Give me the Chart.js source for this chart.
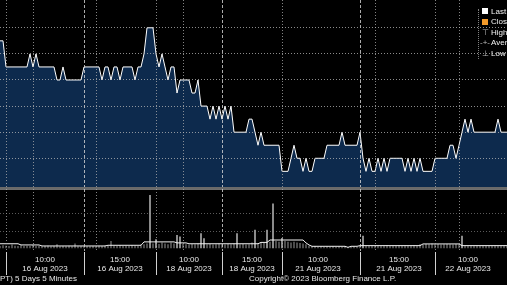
<!DOCTYPE html>
<html>
<head>
<meta charset="utf-8">
<script src="https://cdn.jsdelivr.net/npm/chart.js@4.4.0/dist/chart.umd.min.js"></script>
<style>
html, body { margin: 0; padding: 0; background: #000; width: 507px; height: 285px; overflow: hidden; }
body { position: relative; font-family: "Liberation Sans", Arial, sans-serif; color: #e6e6e6; }
#priceChart { position: absolute; left: 0; top: 0; }
#sep { position: absolute; left: 0; top: 187px; width: 507px; height: 2px; background: #6a6a6a; }
#volChart { position: absolute; left: 0; top: 189px; }
.foot { position: absolute; top: 275px; font-size: 8px; line-height: 8px; white-space: nowrap; color: #e6e6e6; }
#legend { position: absolute; left: 0; top: 0; width: 507px; height: 70px; pointer-events: none; }
#legend .bar { position: absolute; left: 478px; top: 9px; height: 50px; border-left: 1px dotted #808080; }
#legend .sym { position: absolute; left: 482px; width: 6px; height: 6px; }
#legend .mk { position: absolute; left: 480px; width: 10px; font-size: 8px; line-height: 8px; color: #bdbdbd; text-align: center; }
#legend .txt { position: absolute; left: 491px; font-size: 8px; line-height: 8px; color: #f0f0f0; white-space: nowrap; }
</style>
</head>
<body>
<canvas id="priceChart" width="507" height="187"></canvas>
<div id="sep"></div>
<canvas id="volChart" width="507" height="86"></canvas>

<div id="legend">
  <div class="bar"></div>
  <div class="sym" style="top:8px;background:#ffffff"></div><div class="txt" style="top:8px">Last Price</div>
  <div class="sym" style="top:19px;background:#f39a2a"></div><div class="txt" style="top:18px">Close</div>
  <div class="mk" style="top:29px">&#8868;</div><div class="txt" style="top:29px">High</div>
  <div class="mk" style="top:39px">-+-</div><div class="txt" style="top:39px">Average</div>
  <div class="mk" style="top:50px">&#8869;</div><div class="txt" style="top:50px">Low</div>
</div>

<div class="foot" style="left:0">PT) 5 Days 5 Minutes</div>
<div class="foot" style="left:249px">Copyright© 2023 Bloomberg Finance L.P.</div>

<script>
// 5-minute bars, last price
const price = [
  1.21, 1.21, 1.19, 1.19, 1.19, 1.19, 1.19, 1.19, 1.19, 1.19,
  1.20, 1.19, 1.20, 1.19, 1.19, 1.19, 1.19, 1.19, 1.19, 1.18,
  1.18, 1.19, 1.18, 1.18, 1.18, 1.18, 1.18, 1.18, 1.19, 1.19,
  1.19, 1.19, 1.19, 1.19, 1.18, 1.19, 1.19, 1.18, 1.19, 1.19,
  1.18, 1.19, 1.19, 1.19, 1.19, 1.18, 1.19, 1.19, 1.20, 1.22,
  1.22, 1.22, 1.20, 1.19, 1.20, 1.19, 1.18, 1.19, 1.19, 1.17,
  1.18, 1.18, 1.18, 1.18, 1.17, 1.17, 1.18, 1.16, 1.16, 1.16,
  1.15, 1.16, 1.15, 1.16, 1.15, 1.16, 1.15, 1.16, 1.14, 1.14,
  1.14, 1.14, 1.14, 1.15, 1.15, 1.14, 1.13, 1.14, 1.13, 1.13,
  1.13, 1.13, 1.13, 1.13, 1.11, 1.11, 1.11, 1.12, 1.13, 1.12,
  1.12, 1.11, 1.12, 1.11, 1.11, 1.12, 1.12, 1.12, 1.12, 1.13,
  1.13, 1.13, 1.13, 1.13, 1.14, 1.13, 1.13, 1.13, 1.13, 1.13,
  1.14, 1.12, 1.11, 1.12, 1.11, 1.11, 1.12, 1.11, 1.12, 1.11,
  1.12, 1.12, 1.12, 1.12, 1.12, 1.11, 1.12, 1.11, 1.12, 1.11,
  1.12, 1.11, 1.11, 1.11, 1.11, 1.12, 1.12, 1.12, 1.12, 1.12,
  1.13, 1.13, 1.12, 1.13, 1.14, 1.15, 1.14, 1.15, 1.14, 1.14,
  1.14, 1.14, 1.14, 1.14, 1.14, 1.14, 1.15, 1.14, 1.14, 1.14
];

// volume per bar (millions)
const volume = [
  0.10, 0.15, 0.12, 0.10, 0.18, 0.12, 0.10, 0.14, 0.10, 0.12,
  0.10, 0.16, 0.10, 0.12, 0.08, 0.10, 0.12, 0.08, 0.10, 0.20,
  0.08, 0.10, 0.08, 0.12, 0.08, 0.25, 0.08, 0.10, 0.08, 0.10,
  0.08, 0.10, 0.08, 0.12, 0.10, 0.12, 0.10, 0.40, 0.12, 0.10,
  0.14, 0.10, 0.12, 0.10, 0.14, 0.12, 0.10, 0.18, 0.20, 0.25,
  3.10, 0.25, 0.50, 0.22, 0.30, 0.25, 0.20, 0.30, 0.25, 0.75,
  0.65, 0.22, 0.20, 0.18, 0.22, 0.20, 0.25, 0.85, 0.55, 0.20,
  0.22, 0.18, 0.20, 0.25, 0.20, 0.18, 0.22, 0.20, 0.25, 0.85,
  0.20, 0.22, 0.18, 0.20, 0.30, 1.05, 0.25, 0.30, 0.28, 1.05,
  0.35, 2.60, 0.40, 0.35, 0.57, 0.40, 0.35, 0.30, 0.35, 0.30,
  0.28, 0.25, 0.20, 0.12, 0.08, 0.10, 0.06, 0.08, 0.06, 0.08,
  0.06, 0.08, 0.06, 0.08, 0.06, 0.08, 0.04, 0.06, 0.08, 0.06,
  0.10, 0.70, 0.12, 0.10, 0.12, 0.10, 0.12, 0.10, 0.12, 0.14,
  0.10, 0.12, 0.10, 0.14, 0.10, 0.12, 0.10, 0.12, 0.14, 0.10,
  0.20, 0.18, 0.22, 0.20, 0.25, 0.20, 0.22, 0.18, 0.20, 0.22,
  0.20, 0.18, 0.22, 0.20, 0.70, 0.12, 0.10, 0.12, 0.10, 0.12,
  0.10, 0.12, 0.10, 0.12, 0.10, 0.12, 0.10, 0.12, 0.10, 0.12
];

// smoothed volume line
const volumeAvg = [
  0.25, 0.25, 0.25, 0.25, 0.25, 0.25, 0.25, 0.18, 0.18, 0.18,
  0.18, 0.18, 0.18, 0.18, 0.12, 0.12, 0.12, 0.12, 0.12, 0.12,
  0.12, 0.12, 0.12, 0.12, 0.12, 0.12, 0.12, 0.12, 0.12, 0.12,
  0.12, 0.12, 0.12, 0.12, 0.12, 0.12, 0.16, 0.16, 0.16, 0.16,
  0.16, 0.16, 0.16, 0.16, 0.16, 0.16, 0.16, 0.16, 0.36, 0.36,
  0.36, 0.36, 0.36, 0.36, 0.36, 0.36, 0.36, 0.36, 0.36, 0.30,
  0.30, 0.30, 0.30, 0.25, 0.25, 0.25, 0.25, 0.25, 0.25, 0.25,
  0.25, 0.25, 0.25, 0.25, 0.25, 0.25, 0.25, 0.25, 0.25, 0.25,
  0.25, 0.25, 0.25, 0.25, 0.25, 0.25, 0.25, 0.33, 0.33, 0.33,
  0.47, 0.47, 0.47, 0.47, 0.47, 0.47, 0.47, 0.47, 0.47, 0.47,
  0.47, 0.47, 0.30, 0.18, 0.10, 0.10, 0.10, 0.10, 0.10, 0.10,
  0.10, 0.10, 0.10, 0.10, 0.10, 0.10, 0.04, 0.10, 0.10, 0.10,
  0.14, 0.14, 0.14, 0.14, 0.14, 0.14, 0.14, 0.14, 0.14, 0.14,
  0.14, 0.14, 0.14, 0.14, 0.14, 0.14, 0.14, 0.14, 0.14, 0.14,
  0.14, 0.24, 0.24, 0.24, 0.24, 0.24, 0.24, 0.24, 0.24, 0.24,
  0.24, 0.24, 0.24, 0.24, 0.14, 0.14, 0.14, 0.14, 0.14, 0.14,
  0.14, 0.14, 0.14, 0.14, 0.14, 0.14, 0.14, 0.14, 0.14, 0.14
];

// x axis: bar index of each label, and its two text lines
const tickIdx = [15, 40, 63, 84, 106, 133, 156];
const tickTimes = ['10:00', '15:00', '10:00', '15:00', '10:00', '15:00', '10:00'];
const tickDates = ['16 Aug 2023', '16 Aug 2023', '18 Aug 2023', '18 Aug 2023', '21 Aug 2023', '21 Aug 2023', '22 Aug 2023'];

// bar indices of session separators and vertical grid lines
const sepIdx = [2, 28, 52, 74, 94, 120, 145];
const dashedIdx = [28, 74, 120];
const dottedIdx = [2, 11, 32, 52, 61, 94, 125, 145, 153];

const labels = price.map((p, i) => {
    const k = tickIdx.indexOf(i);
    return k < 0 ? ['', ''] : [tickTimes[k], tickDates[k]];
});

function vGridColor(c) {
    if (dashedIdx.includes(c.index)) return 'rgba(215,215,215,0.8)';
    if (dottedIdx.includes(c.index)) return 'rgba(175,175,175,0.75)';
    return 'transparent';
}
function vGridDash(c) {
    return dashedIdx.includes(c.index) ? [3, 2] : [1, 2];
}
function onStep(step) {
    return scale => {
        scale.ticks = scale.ticks.filter(t => {
            const r = t.value / step;
            return Math.abs(r - Math.round(r)) < 1e-6 && t.value > scale.min && t.value < scale.max;
        });
    };
}

Chart.defaults.animation = false;
Chart.defaults.font.family = '"Liberation Sans", Arial, sans-serif';

new Chart(document.getElementById('priceChart'), {
    type: 'line',
    data: {
        labels: labels,
        datasets: [{
            data: price,
            borderColor: '#ffffff',
            borderWidth: 1,
            backgroundColor: 'rgb(13, 42, 77)',
            fill: 'start',
            pointRadius: 0,
            tension: 0
        }]
    },
    options: {
        responsive: false,
        layout: { padding: 0 },
        plugins: { legend: { display: false }, tooltip: { enabled: false } },
        scales: {
            x: {
                offset: false,
                ticks: { display: false, autoSkip: false },
                grid: { color: vGridColor, drawTicks: false, z: 1, lineWidth: 1 },
                border: { display: false, dash: vGridDash }
            },
            y: {
                position: 'right',
                min: 1.098,
                max: 1.2413,
                afterBuildTicks: onStep(0.02),
                ticks: { display: false, stepSize: 0.02 },
                grid: { color: 'rgba(185,185,185,0.75)', drawTicks: false, z: 1 },
                border: { display: false, dash: [1, 2] }
            }
        }
    }
});

new Chart(document.getElementById('volChart'), {
    type: 'bar',
    data: {
        labels: labels,
        datasets: [{
            type: 'line',
            data: volumeAvg,
            borderColor: '#f2f2f2',
            borderWidth: 1,
            pointRadius: 0,
            tension: 0
        }, {
            type: 'bar',
            data: volume,
            // tall bars show light, the small ones stay dim under the line
            backgroundColor: c => c.raw > 0.45 ? '#a8a8a8' : '#5c5c5c',
            barThickness: 1
        }]
    },
    options: {
        responsive: false,
        layout: { padding: { left: 0, right: 0, top: 0, bottom: 1.3 } },
        plugins: { legend: { display: false }, tooltip: { enabled: false } },
        scales: {
            x: {
                offset: false,
                // labels sit beside the separator ticks, so fix the axis height
                afterFit: scale => { scale.height = 22.7; },
                ticks: {
                    autoSkip: false, maxRotation: 0, minRotation: 0,
                    padding: -20.5, color: '#e8e8e8',
                    font: { size: 8 }
                },
                grid: {
                    offset: false, color: vGridColor, z: 1,
                    drawTicks: true, tickLength: 24, tickWidth: 1,
                    tickColor: c => sepIdx.includes(c.index) ? '#d0d0d0' : 'transparent',
                    tickBorderDash: []
                },
                border: { display: true, color: '#dcdcdc', width: 1, dash: vGridDash }
            },
            y: {
                position: 'right',
                min: -0.176,
                max: 3.47,
                afterBuildTicks: onStep(1),
                ticks: { display: false, stepSize: 1 },
                grid: { color: 'rgba(150,150,150,0.6)', drawTicks: false, z: 1 },
                border: { display: false, dash: [1, 2] }
            }
        }
    }
});
</script>
</body>
</html>
